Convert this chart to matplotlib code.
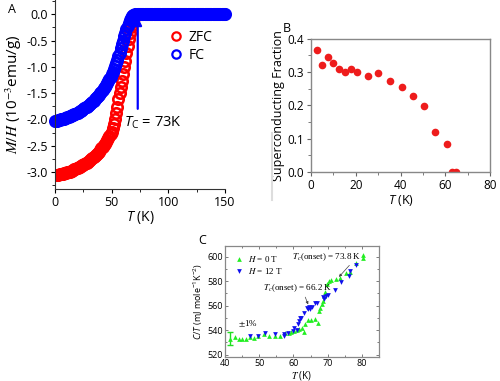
import matplotlib
matplotlib.use('Agg')
import matplotlib.pyplot as plt
from matplotlib.font_manager import FontProperties
from matplotlib.ticker import MultipleLocator
import numpy as np

plt.rcParams['font.family'] = ['Open Sans', 'DejaVu Sans']
plt.rcParams['mathtext.fontset'] = 'custom'
plt.rcParams['mathtext.rm'] = 'Open Sans'
plt.rcParams['mathtext.it'] = 'Open Sans:italic'

# ---- panel A: M/H vs T, 1 K sweep from 0 K
zfc_sweep = [-3.05, -3.05, -3.05, -3.05, -3.04, -3.04, -3.03, -3.03, -3.02, -3.02,
             -3.01, -3.00, -2.99, -2.99, -2.98, -2.97, -2.96, -2.95, -2.94, -2.93,
             -2.92, -2.91, -2.90, -2.88, -2.87, -2.86, -2.85, -2.83, -2.82, -2.80,
             -2.79, -2.77, -2.75, -2.74, -2.72, -2.70, -2.68, -2.66, -2.63, -2.61,
             -2.58, -2.55, -2.52, -2.49, -2.46, -2.43, -2.39, -2.36, -2.32, -2.28,
             -2.23, -2.16, -2.08, -1.99, -1.88, -1.76, -1.62, -1.49, -1.38, -1.26,
             -1.14, -1.01, -0.88, -0.74, -0.60, -0.47, -0.35, -0.24, -0.15, -0.08,
             -0.04, -0.02, -0.01, 0.0]
fc_sweep = [-2.02, -2.02, -2.02, -2.01, -2.01, -2.00, -2.00, -1.99, -1.99, -1.98,
            -1.97, -1.96, -1.95, -1.94, -1.93, -1.92, -1.91, -1.90, -1.89, -1.88,
            -1.87, -1.86, -1.84, -1.83, -1.82, -1.80, -1.79, -1.77, -1.76, -1.74,
            -1.72, -1.70, -1.68, -1.66, -1.64, -1.62, -1.60, -1.58, -1.55, -1.53,
            -1.50, -1.47, -1.44, -1.41, -1.38, -1.34, -1.31, -1.27, -1.23, -1.19,
            -1.14, -1.09, -1.04, -0.99, -0.93, -0.87, -0.80, -0.73, -0.65, -0.57,
            -0.50, -0.42, -0.35, -0.28, -0.22, -0.16, -0.11, -0.07, -0.04, -0.02,
            -0.01, 0.0, 0.0, 0.0]
temp_a = np.arange(0, 151)
normal_state = [0.0] * (len(temp_a) - len(zfc_sweep))
zfc = zfc_sweep + normal_state
fc = fc_sweep + normal_state

# ---- panel B: superconducting fraction
frac_t = [2.7, 5.1, 7.7, 10.0, 12.6, 15.2, 17.8, 20.4, 25.4, 30.0, 35.4, 40.6,
          45.5, 50.4, 55.5, 60.6, 62.9, 64.9]
frac = [0.367, 0.322, 0.344, 0.326, 0.309, 0.299, 0.309, 0.299, 0.289, 0.296,
        0.273, 0.256, 0.228, 0.198, 0.120, 0.085, 0.0, 0.0]

# ---- panel C: specific heat C/T
t_0T = [41.5, 42.8, 44.0, 45.0, 46.0, 47.3, 48.4, 49.6, 51.5, 53.0, 54.5, 56.0,
        57.5, 58.8, 59.4, 60.2, 60.9, 61.5, 62.6, 63.0, 63.4, 64.2, 65.2, 66.4,
        67.2, 67.6, 67.9, 68.2, 68.6, 69.0, 69.2, 69.9, 70.4, 71.0, 72.5, 73.5,
        75.5, 76.4, 78.4, 80.2, 80.2]
c_0T = [533.0, 534.0, 532.5, 532.5, 532.5, 534.5, 533.5, 535.5, 537.0, 535.5,
        535.5, 535.5, 538.0, 537.5, 538.5, 539.0, 539.8, 541.0, 542.0, 538.5,
        544.7, 548.0, 548.0, 548.8, 546.1, 555.7, 558.4, 561.0, 563.8, 567.7,
        571.0, 577.4, 580.2, 581.0, 582.0, 583.0, 586.5, 587.5, 594.5, 601.5,
        599.0]
t_12T = [47.3, 49.7, 51.6, 54.5, 57.2, 57.2, 58.4, 59.9, 60.2, 61.0, 61.4, 61.6,
         61.9, 62.3, 63.0, 63.9, 64.2, 64.4, 64.9, 65.4, 66.4, 67.0, 68.5, 68.9,
         69.5, 70.0, 72.0, 74.0, 76.2, 76.5, 78.4]
c_12T = [535.5, 535.5, 537.5, 536.5, 537.0, 535.5, 537.5, 539.3, 542.0, 540.0,
         544.7, 547.5, 550.2, 550.0, 554.0, 558.4, 557.0, 559.0, 557.0, 559.0,
         561.9, 562.0, 566.8, 565.5, 568.0, 568.5, 572.5, 579.6, 584.0, 588.0,
         593.0]
err_pct = 1.0  # +-1% bar on the first point

fig = plt.figure(figsize=(5.0, 3.81), dpi=100)

# ---------------- A
ax = fig.add_axes([0.11, 0.504, 0.34, 0.496])
ax.plot(temp_a, zfc, 'o', mfc='none', mec='#ff0000', ms=7.5, mew=1.9, label='ZFC')
ax.plot(temp_a, fc, 'o', mfc='none', mec='#0000ff', ms=7.5, mew=1.9, label='FC', clip_on=False)
ax.set_xlim(0, 150)
ax.set_ylim(-3.32, 0.27)
ax.spines['top'].set_visible(False)
ax.spines['right'].set_visible(False)
for s in ('left', 'bottom'):
    ax.spines[s].set_color('#333333')
ax.xaxis.set_major_locator(MultipleLocator(50))
ax.xaxis.set_minor_locator(MultipleLocator(25))
ax.yaxis.set_major_locator(MultipleLocator(0.5))
ax.yaxis.set_minor_locator(MultipleLocator(0.25))
ax.tick_params(labelsize=9, length=3, width=0.8, pad=2)
ax.tick_params(which='minor', length=2)
ax.set_yticks([0.0, -0.5, -1.0, -1.5, -2.0, -2.5, -3.0])
ax.set_yticklabels(['0.0', '-0.5', '-1.0', '-1.5', '-2.0', '-2.5', '-3.0'])
ax.set_xlabel('$T$ (K)', fontsize=10, labelpad=0)
ax.set_ylabel(r'$M/H$ (10$^{-3}$emu/g)', fontsize=11, labelpad=2, math_fontfamily='stix')
leg = ax.legend(loc='upper left', bbox_to_anchor=(0.62, 0.88), frameon=False, fontsize=10,
                handletextpad=0.3, borderpad=0, labelspacing=0.25, handlelength=1.2)
for h in leg.legend_handles:
    h.set_markersize(6)
    h.set_markeredgewidth(1.6)
ax.annotate('', xy=(73, 0.0), xytext=(73, -1.85),
            arrowprops=dict(arrowstyle='-|>', color='#0000ff', lw=1.6, mutation_scale=12))
ax.text(61, -2.07, '$T_\\mathrm{C}$ = 73K', fontsize=10.5, va='center')
fig.text(0.016, 0.975, 'A', fontsize=9, va='center')

# ---------------- B
bx = fig.add_axes([0.622, 0.549, 0.358, 0.349])
bx.plot(frac_t, frac, 'o', color='#ee1c1c', ms=5.5, mec='none')
bx.set_xlim(0, 80)
bx.set_ylim(0, 0.4)
for s in bx.spines.values():
    s.set_color('#888888')
    s.set_linewidth(1.0)
bx.xaxis.set_major_locator(MultipleLocator(20))
bx.xaxis.set_minor_locator(MultipleLocator(10))
bx.yaxis.set_major_locator(MultipleLocator(0.1))
bx.yaxis.set_minor_locator(MultipleLocator(0.05))
bx.tick_params(labelsize=8.5, length=3, width=0.8, pad=2, color='#666666')
bx.tick_params(which='minor', length=2, color='#666666')
bx.set_xlabel('$T$ (K)', fontsize=9, labelpad=1)
bx.set_ylabel('Superconducting Fraction', fontsize=9, labelpad=2)
fig.text(0.566, 0.926, 'B', fontsize=9, va='center')
fig.add_artist(plt.Line2D([0.543, 0.543], [0.475, 0.65], color='#dddddd', lw=1.5))

# ---------------- C
serif = 'Liberation Serif'
cx = fig.add_axes([0.45, 0.063, 0.308, 0.292])
cx.errorbar(t_0T[:1], c_0T[:1], yerr=[c_0T[0] * err_pct / 100], fmt='none',
            ecolor='#22dd22', elinewidth=1.0, capsize=2)
cx.plot(t_0T, c_0T, '^', color='#22ee22', ms=3.4, mec='none', label='$H$ = 0 T')
cx.plot(t_12T, c_12T, 'v', color='#1010ee', ms=3.4, mec='none', label='$H$ = 12 T')
cx.set_xlim(40, 85)
cx.set_ylim(518, 609)
for s in cx.spines.values():
    s.set_color('#888888')
    s.set_linewidth(0.9)
cx.xaxis.set_major_locator(MultipleLocator(10))
cx.xaxis.set_minor_locator(MultipleLocator(5))
cx.yaxis.set_major_locator(MultipleLocator(20))
cx.yaxis.set_minor_locator(MultipleLocator(10))
cx.tick_params(labelsize=6.5, length=2.5, width=0.6, pad=1.5, direction='in',
               top=True, right=True, color='#666666')
cx.tick_params(which='minor', length=1.5, direction='in', top=True, right=True, color='#666666')
cx.set_xlabel('$T$ (K)', fontsize=7, labelpad=1, math_fontfamily='stix')
cx.set_ylabel('$C/T$ (mJ mole$^{-1}$K$^{-2}$)', fontsize=6.5, labelpad=2)
leg_font = FontProperties(family=serif, size=6.5, math_fontfamily='stix')
cx.legend(loc='upper left', bbox_to_anchor=(0.01, 0.99), frameon=False, prop=leg_font,
          handletextpad=0.4, borderpad=0.3, labelspacing=0.2, handlelength=1.2)
cx.annotate('$T_c$(onset) = 73.8 K', xy=(73.3, 583.5), xytext=(59.5, 600),
            fontsize=6.5, family=serif, math_fontfamily='stix', va='center',
            arrowprops=dict(arrowstyle='-|>', color='#444444', lw=0.5,
                            mutation_scale=4, shrinkA=0, shrinkB=0,
                            relpos=(0.87, 0.0)))
cx.annotate('$T_c$(onset) = 66.2 K', xy=(64.3, 561), xytext=(51, 574),
            fontsize=6.5, family=serif, math_fontfamily='stix', va='center',
            arrowprops=dict(arrowstyle='-|>', color='#444444', lw=0.5,
                            mutation_scale=4, shrinkA=0, shrinkB=0,
                            relpos=(0.6, 0.0)))
cx.text(43.7, 545, '$\\pm$1%', fontsize=6.5, family=serif, math_fontfamily='stix', va='center')
fig.text(0.396, 0.37, 'C', fontsize=9, va='center')

fig.savefig('out.png', dpi=100)
